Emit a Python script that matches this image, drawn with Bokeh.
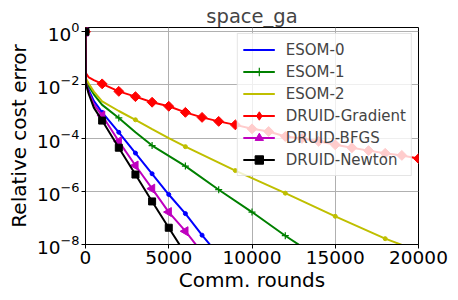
import math
from bokeh.plotting import figure
from bokeh.models import FixedTicker, Legend, LegendItem
from bokeh.embed import file_html
from bokeh.resources import INLINE

# ---- data ----
esom0_x = [0, 20, 200, 500, 1000, 2000, 3000, 4000, 5000, 6000, 7000, 8000]
esom0_y = [1.0, 1.41e-2, 6.31e-3, 2.51e-3, 9.33e-4, 1.66e-4, 2.75e-5, 4.57e-6, 7.59e-7, 1.45e-7, 2.24e-8, 3.98e-9]

esom1_x = [0, 20, 200, 500, 1000, 2000, 3000, 4000, 6000, 8000, 10000, 12000, 14000]
esom1_y = [1.0, 1.58e-2, 8.91e-3, 4.47e-3, 1.78e-3, 5.75e-4, 1.66e-4, 5.25e-5, 8.91e-6, 1.15e-6, 1.66e-7, 2.14e-8, 3.16e-9]

esom2_x = [0, 20, 200, 500, 1000, 2000, 3000, 4000, 5000, 6000, 9000, 12000, 15000, 18000, 20000]
esom2_y = [1.0, 1.78e-2, 1.12e-2, 5.62e-3, 2.40e-3, 1.05e-3, 4.90e-4, 2.19e-4, 1.0e-4, 4.79e-5, 6.03e-6, 8.51e-7, 1.15e-7, 1.66e-8, 5.62e-9]

grad_x = [0, 20, 200, 500, 1000, 2000, 3000, 4000, 5000, 6000, 7000, 8000, 9000, 10000,
          11000, 12000, 13000, 14000, 15000, 16000, 17000, 18000, 19000, 20000]
grad_y = [1.0, 2.82e-2, 1.91e-2, 1.51e-2, 1.10e-2, 5.75e-3, 3.63e-3, 2.24e-3, 1.58e-3, 9.33e-4,
          6.03e-4, 4.27e-4, 3.16e-4, 2.24e-4, 1.78e-4, 1.15e-4, 9.77e-5, 7.59e-5, 5.62e-5,
          4.37e-5, 3.39e-5, 2.69e-5, 2.24e-5, 1.70e-5]

bfgs_x = [0, 20, 200, 500, 1000, 2000, 3000, 4000, 5000, 6000, 7000]
bfgs_y = [1.0, 1.26e-2, 5.01e-3, 1.91e-3, 7.08e-4, 7.59e-5, 9.33e-6, 1.26e-6, 1.66e-7, 3.16e-8, 5.01e-9]

newton_x = [0, 20, 200, 500, 1000, 2000, 3000, 4000, 5000, 6000]
newton_y = [1.0, 1.12e-2, 4.47e-3, 1.41e-3, 4.57e-4, 4.37e-5, 4.27e-6, 4.17e-7, 4.27e-8, 4.47e-9]

x_ticks = [0, 5000, 10000, 15000, 20000]
y_ticks = [1e-8, 1e-6, 1e-4, 1e-2, 1.0]

FONT = "DejaVu Sans"

p = figure(width=450, height=300, x_range=(0, 20000), y_range=(1e-8, 1.45),
           y_axis_type="log", output_backend="svg", toolbar_location=None,
           min_border_left=85, min_border_right=32, min_border_top=27,
           min_border_bottom=56, title="space_ga")

p.title.align = "center"
p.title.text_font = FONT
p.title.text_font_size = "19.5px"
p.title.text_font_style = "normal"
p.title.standoff = 0
p.title.offset = 0

series = [
    ("ESOM-0", esom0_x, esom0_y, "#0000ff", dict(marker="circle", size=4), 1000, "dot"),
    ("ESOM-1", esom1_x, esom1_y, "#008000", dict(marker="cross", size=7, line_width=1.2), 2000, None),
    ("ESOM-2", esom2_x, esom2_y, "#bfbf00", dict(marker="circle", size=4), 3000, "dot"),
    ("DRUID-Gradient", grad_x, grad_y, "#ff0000", dict(marker="square", size=7, angle=math.pi / 4), 1000, "diamond"),
    ("DRUID-BFGS", bfgs_x, bfgs_y, "#bf00bf", dict(marker="triangle", size=9, angle=math.pi / 2), 1000, None),
    ("DRUID-Newton", newton_x, newton_y, "#000000", dict(marker="square", size=7), 1000, None),
]

items = []
for name, xs, ys, color, mk, step, leg_marker in series:
    ln = p.line(xs, ys, line_color=color, line_width=2)
    mx = [x for x in xs if x % step == 0]
    my = [y for x, y in zip(xs, ys) if x % step == 0]
    leg_r = None
    if leg_marker is not None:
        # same points, drawn beneath the plotted markers; used for the legend symbol
        leg_r = p.scatter(mx, my, marker=leg_marker, size=6, fill_color=color, line_color=color)
    sc = p.scatter(mx, my, fill_color=color, line_color=color, **mk)
    items.append(LegendItem(label=name, renderers=[ln, leg_r if leg_r is not None else sc]))

# axes
p.xaxis.ticker = FixedTicker(ticks=x_ticks)
p.yaxis.ticker = FixedTicker(ticks=y_ticks)
for ax in (p.xaxis, p.yaxis):
    ax.major_label_text_font = FONT
    ax.major_label_text_font_size = "18.5px"
    ax.major_label_text_color = "black"
    ax.axis_label_text_font = FONT
    ax.axis_label_text_font_size = "20px"
    ax.axis_label_text_font_style = "normal"
    ax.axis_label_text_color = "black"
    ax.major_tick_out = 4
    ax.major_tick_in = 0
    ax.minor_tick_out = 0
    ax.minor_tick_in = 0
    ax.axis_line_color = "black"
    ax.major_tick_line_color = "black"
p.xaxis.axis_label = "Comm. rounds"
p.yaxis.axis_label = "Relative cost error"
p.xaxis.major_label_standoff = 2
p.yaxis.major_label_standoff = 2
p.xaxis.axis_label_standoff = 1
p.yaxis.axis_label_standoff = 3

p.xgrid.grid_line_color = "#b0b0b0"
p.ygrid.grid_line_color = "#b0b0b0"
p.xgrid.grid_line_width = 1
p.ygrid.grid_line_width = 1

p.outline_line_color = "black"
p.outline_line_width = 1

leg = Legend(items=items, location="top_right")
leg.margin = 6
leg.padding = 5
leg.spacing = 1
leg.label_height = 21
leg.glyph_height = 21
leg.glyph_width = 32
leg.label_standoff = 11
leg.label_text_font = FONT
leg.label_text_font_size = "15px"
leg.background_fill_alpha = 0.8
leg.border_line_color = "#cccccc"
leg.border_line_width = 1
p.add_layout(leg)

open("out.html", "w").write(file_html(p, INLINE))
